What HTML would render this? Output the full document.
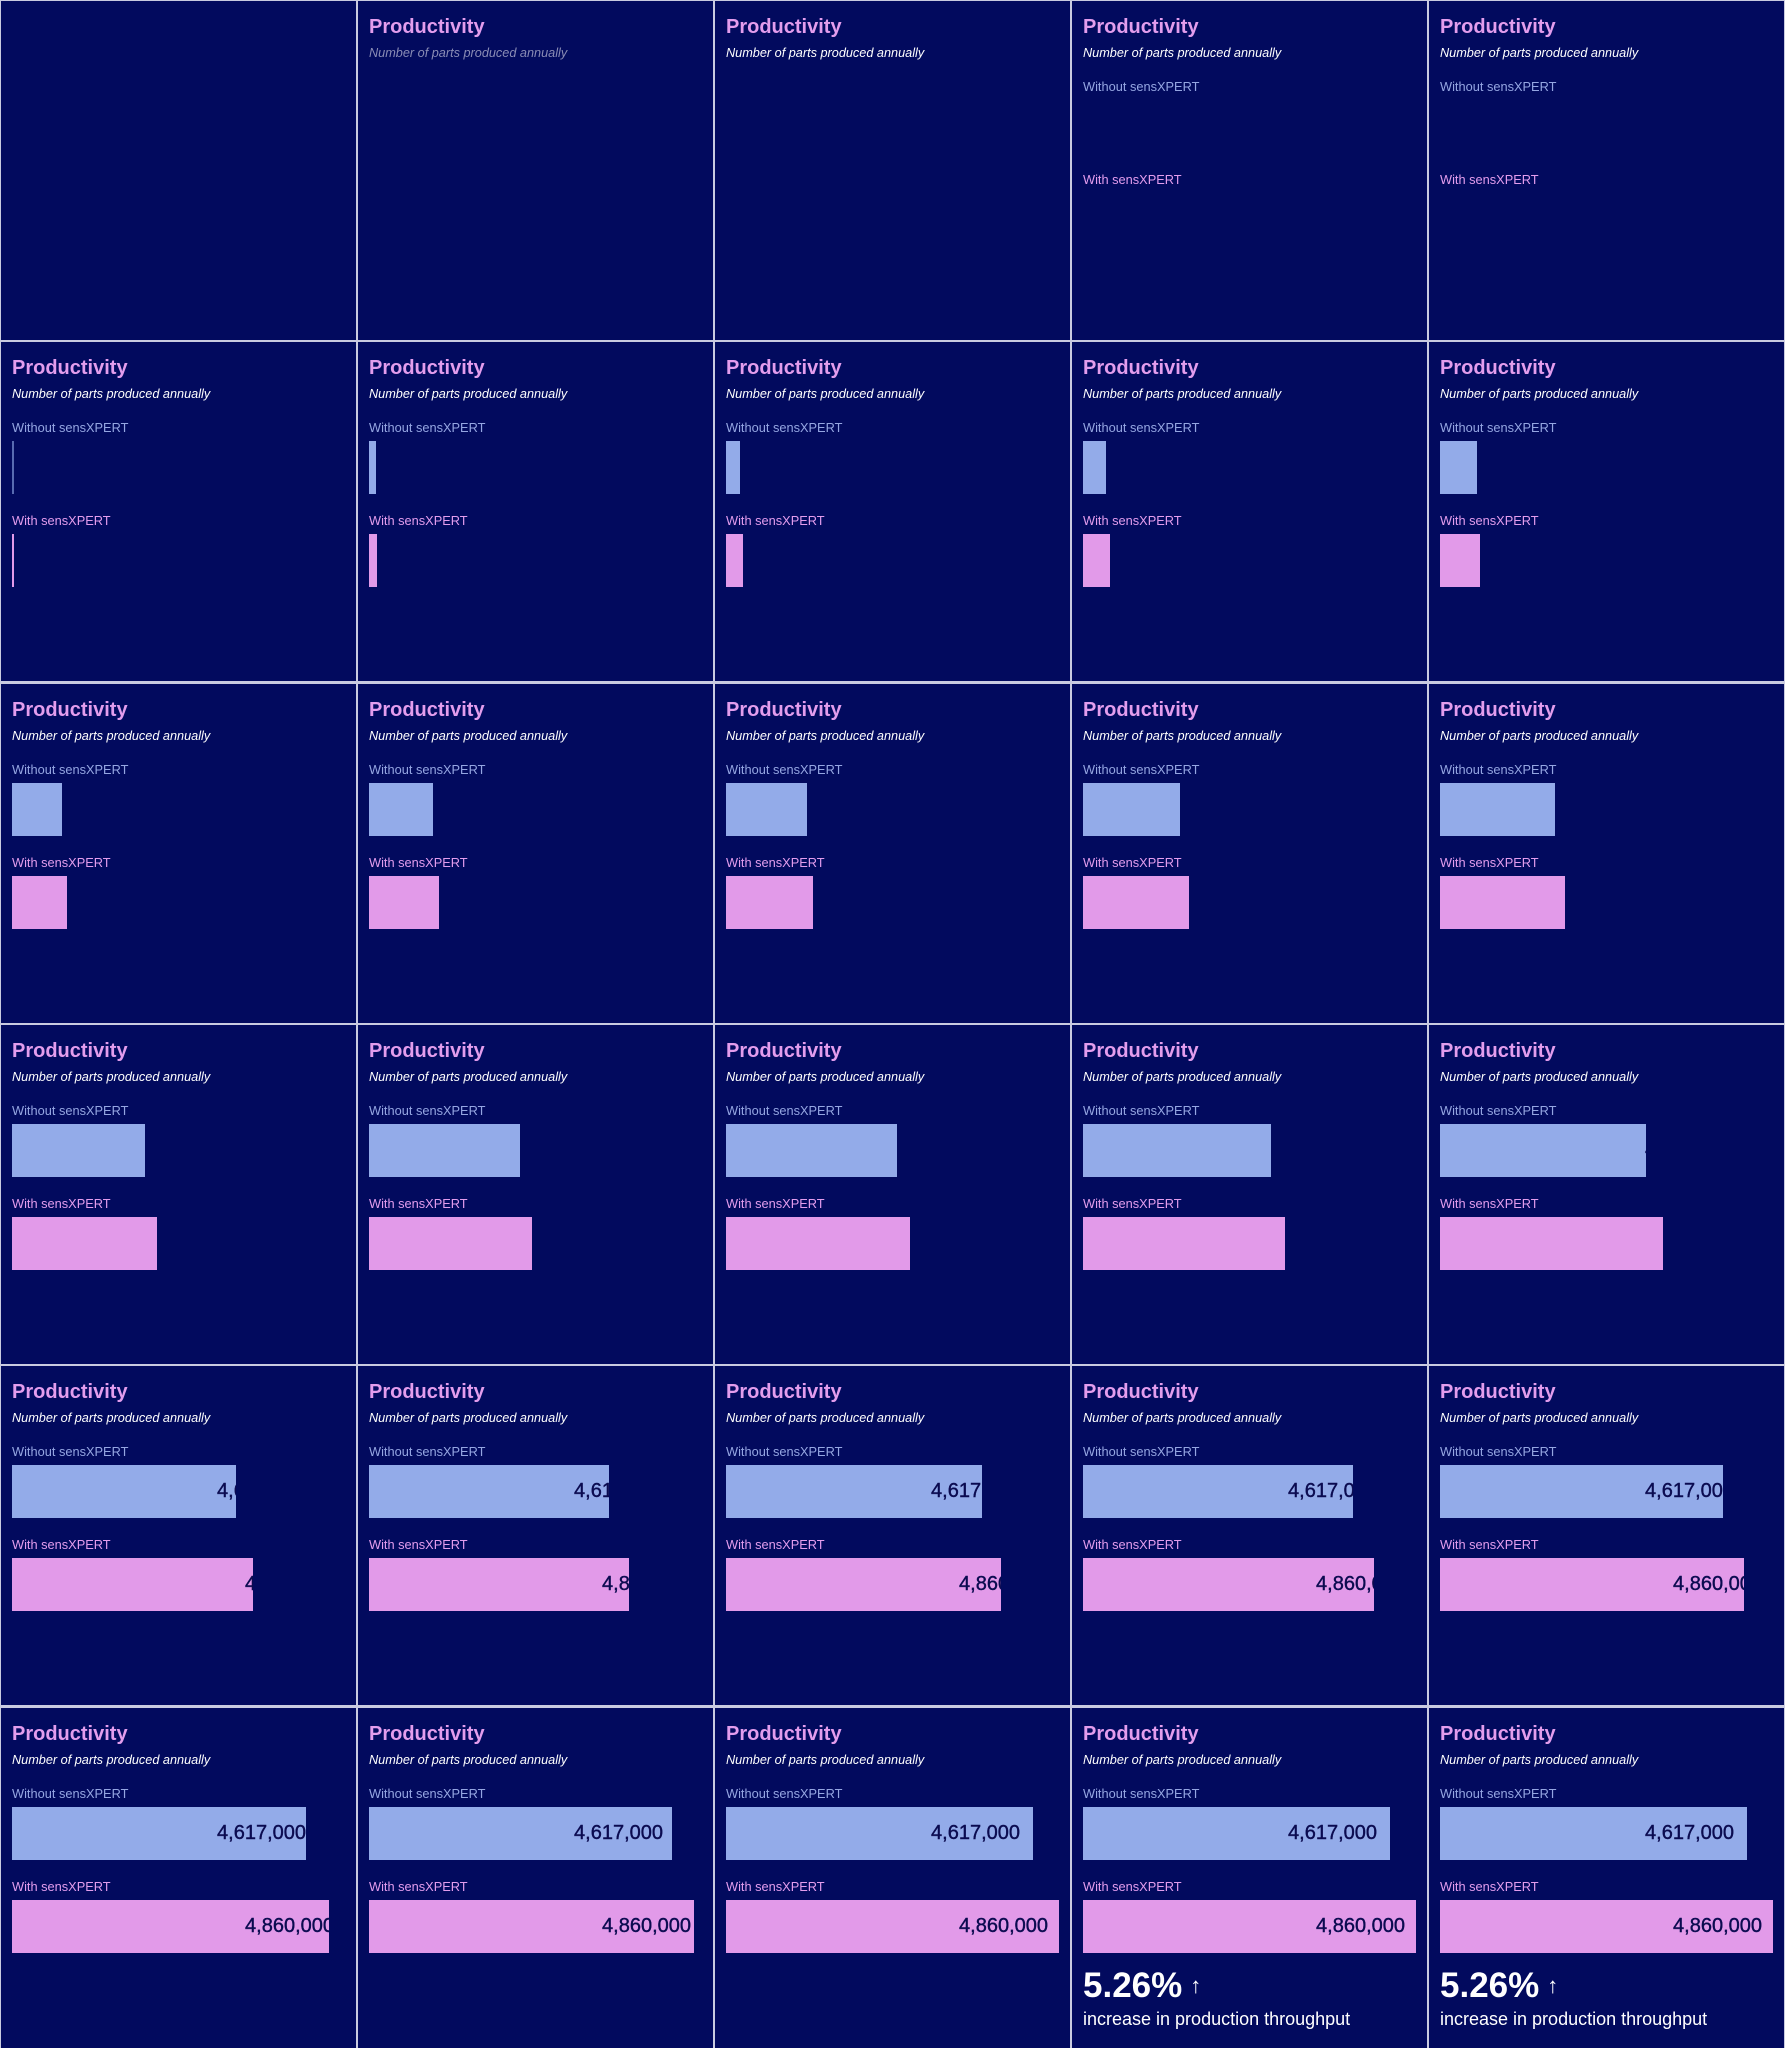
<!DOCTYPE html>
<html><head><meta charset="utf-8"><style>
*{margin:0;padding:0;box-sizing:border-box}
html,body{width:1785px;height:2048px;overflow:hidden}
body{background:#c9cbe0;position:relative;font-family:"Liberation Sans",sans-serif}
.c{position:absolute;width:355px;height:339px;background:#020a5e;overflow:hidden}
.t{position:absolute;left:11px;top:14px;font-size:20px;font-weight:bold;color:#e39ded;line-height:24px;white-space:nowrap}
.s{position:absolute;left:11px;top:44px;font-size:12.7px;font-style:italic;color:#fff;line-height:16px;white-space:nowrap}
.s.g{color:#8a8cb5}
.l1{position:absolute;left:11px;top:78px;font-size:12.8px;color:#95a6e2;line-height:16px;white-space:nowrap}
.l2{position:absolute;left:11px;top:171px;font-size:12.8px;color:#e39ded;line-height:16px;white-space:nowrap}
.b1,.b2{position:absolute;left:11px;height:53px;overflow:hidden}
.b1{top:99px;background:#93abe9}
.b2{top:192px;background:#e29ae9}
.b1 span,.b2 span{position:absolute;left:0;top:0;line-height:53px;font-size:20px;color:#0b0b50;text-align:right;white-space:nowrap;-webkit-text-stroke:0.4px #0b0b50}
.b1 span{width:294px}
.b2 span{width:322px}
.big{position:absolute;left:11px;top:258px;font-size:35px;font-weight:bold;color:#fff;line-height:40px;white-space:nowrap}
.big small{font-size:22px;font-weight:normal;margin-left:8px;vertical-align:4px}
.inc{position:absolute;left:11px;top:300px;font-size:18px;color:#fff;line-height:22px;white-space:nowrap}
</style></head><body>
<!-- row 0 -->
<div class="c" style="left:1px;top:1px"></div>
<div class="c" style="left:358px;top:1px"><div class="t">Productivity</div><div class="s g">Number of parts produced annually</div></div>
<div class="c" style="left:715px;top:1px"><div class="t">Productivity</div><div class="s">Number of parts produced annually</div></div>
<div class="c" style="left:1072px;top:1px"><div class="t">Productivity</div><div class="s">Number of parts produced annually</div><div class="l1">Without sensXPERT</div><div class="l2">With sensXPERT</div></div>
<div class="c" style="left:1429px;top:1px;width:355px"><div class="t">Productivity</div><div class="s">Number of parts produced annually</div><div class="l1">Without sensXPERT</div><div class="l2">With sensXPERT</div></div>
<!-- row 1 -->
<div class="c" style="left:1px;top:342px"><div class="t">Productivity</div><div class="s">Number of parts produced annually</div><div class="l1">Without sensXPERT</div><div class="b1" style="width:2px;opacity:.6"></div><div class="l2">With sensXPERT</div><div class="b2" style="width:2px"></div></div>
<div class="c" style="left:358px;top:342px"><div class="t">Productivity</div><div class="s">Number of parts produced annually</div><div class="l1">Without sensXPERT</div><div class="b1" style="width:7px"></div><div class="l2">With sensXPERT</div><div class="b2" style="width:8px"></div></div>
<div class="c" style="left:715px;top:342px"><div class="t">Productivity</div><div class="s">Number of parts produced annually</div><div class="l1">Without sensXPERT</div><div class="b1" style="width:14px"></div><div class="l2">With sensXPERT</div><div class="b2" style="width:17px"></div></div>
<div class="c" style="left:1072px;top:342px"><div class="t">Productivity</div><div class="s">Number of parts produced annually</div><div class="l1">Without sensXPERT</div><div class="b1" style="width:23px"></div><div class="l2">With sensXPERT</div><div class="b2" style="width:27px"></div></div>
<div class="c" style="left:1429px;top:342px"><div class="t">Productivity</div><div class="s">Number of parts produced annually</div><div class="l1">Without sensXPERT</div><div class="b1" style="width:37px"></div><div class="l2">With sensXPERT</div><div class="b2" style="width:40px"></div></div>
<!-- row 2 -->
<div class="c" style="left:1px;top:684px"><div class="t">Productivity</div><div class="s">Number of parts produced annually</div><div class="l1">Without sensXPERT</div><div class="b1" style="width:50px"></div><div class="l2">With sensXPERT</div><div class="b2" style="width:55px"></div></div>
<div class="c" style="left:358px;top:684px"><div class="t">Productivity</div><div class="s">Number of parts produced annually</div><div class="l1">Without sensXPERT</div><div class="b1" style="width:64px"></div><div class="l2">With sensXPERT</div><div class="b2" style="width:70px"></div></div>
<div class="c" style="left:715px;top:684px"><div class="t">Productivity</div><div class="s">Number of parts produced annually</div><div class="l1">Without sensXPERT</div><div class="b1" style="width:81px"></div><div class="l2">With sensXPERT</div><div class="b2" style="width:87px"></div></div>
<div class="c" style="left:1072px;top:684px"><div class="t">Productivity</div><div class="s">Number of parts produced annually</div><div class="l1">Without sensXPERT</div><div class="b1" style="width:97px"></div><div class="l2">With sensXPERT</div><div class="b2" style="width:106px"></div></div>
<div class="c" style="left:1429px;top:684px"><div class="t">Productivity</div><div class="s">Number of parts produced annually</div><div class="l1">Without sensXPERT</div><div class="b1" style="width:115px"></div><div class="l2">With sensXPERT</div><div class="b2" style="width:125px"></div></div>
<!-- row 3 -->
<div class="c" style="left:1px;top:1025px"><div class="t">Productivity</div><div class="s">Number of parts produced annually</div><div class="l1">Without sensXPERT</div><div class="b1" style="width:133px"><span>4,617,000</span></div><div class="l2">With sensXPERT</div><div class="b2" style="width:145px"><span>4,860,000</span></div></div>
<div class="c" style="left:358px;top:1025px"><div class="t">Productivity</div><div class="s">Number of parts produced annually</div><div class="l1">Without sensXPERT</div><div class="b1" style="width:151px"><span>4,617,000</span></div><div class="l2">With sensXPERT</div><div class="b2" style="width:163px"><span>4,860,000</span></div></div>
<div class="c" style="left:715px;top:1025px"><div class="t">Productivity</div><div class="s">Number of parts produced annually</div><div class="l1">Without sensXPERT</div><div class="b1" style="width:171px"><span>4,617,000</span></div><div class="l2">With sensXPERT</div><div class="b2" style="width:184px"><span>4,860,000</span></div></div>
<div class="c" style="left:1072px;top:1025px"><div class="t">Productivity</div><div class="s">Number of parts produced annually</div><div class="l1">Without sensXPERT</div><div class="b1" style="width:188px"><span>4,617,000</span></div><div class="l2">With sensXPERT</div><div class="b2" style="width:202px"><span>4,860,000</span></div></div>
<div class="c" style="left:1429px;top:1025px"><div class="t">Productivity</div><div class="s">Number of parts produced annually</div><div class="l1">Without sensXPERT</div><div class="b1" style="width:206px"><span>4,617,000</span></div><div class="l2">With sensXPERT</div><div class="b2" style="width:223px"><span>4,860,000</span></div></div>
<!-- row 4 -->
<div class="c" style="left:1px;top:1366px"><div class="t">Productivity</div><div class="s">Number of parts produced annually</div><div class="l1">Without sensXPERT</div><div class="b1" style="width:224px"><span>4,617,000</span></div><div class="l2">With sensXPERT</div><div class="b2" style="width:241px"><span>4,860,000</span></div></div>
<div class="c" style="left:358px;top:1366px"><div class="t">Productivity</div><div class="s">Number of parts produced annually</div><div class="l1">Without sensXPERT</div><div class="b1" style="width:240px"><span>4,617,000</span></div><div class="l2">With sensXPERT</div><div class="b2" style="width:260px"><span>4,860,000</span></div></div>
<div class="c" style="left:715px;top:1366px"><div class="t">Productivity</div><div class="s">Number of parts produced annually</div><div class="l1">Without sensXPERT</div><div class="b1" style="width:256px"><span>4,617,000</span></div><div class="l2">With sensXPERT</div><div class="b2" style="width:275px"><span>4,860,000</span></div></div>
<div class="c" style="left:1072px;top:1366px"><div class="t">Productivity</div><div class="s">Number of parts produced annually</div><div class="l1">Without sensXPERT</div><div class="b1" style="width:270px"><span>4,617,000</span></div><div class="l2">With sensXPERT</div><div class="b2" style="width:291px"><span>4,860,000</span></div></div>
<div class="c" style="left:1429px;top:1366px"><div class="t">Productivity</div><div class="s">Number of parts produced annually</div><div class="l1">Without sensXPERT</div><div class="b1" style="width:283px"><span>4,617,000</span></div><div class="l2">With sensXPERT</div><div class="b2" style="width:304px"><span>4,860,000</span></div></div>
<!-- row 5 -->
<div class="c" style="left:1px;top:1708px;height:340px"><div class="t">Productivity</div><div class="s">Number of parts produced annually</div><div class="l1">Without sensXPERT</div><div class="b1" style="width:294px"><span>4,617,000</span></div><div class="l2">With sensXPERT</div><div class="b2" style="width:317px"><span>4,860,000</span></div></div>
<div class="c" style="left:358px;top:1708px;height:340px"><div class="t">Productivity</div><div class="s">Number of parts produced annually</div><div class="l1">Without sensXPERT</div><div class="b1" style="width:303px"><span>4,617,000</span></div><div class="l2">With sensXPERT</div><div class="b2" style="width:325px"><span>4,860,000</span></div></div>
<div class="c" style="left:715px;top:1708px;height:340px"><div class="t">Productivity</div><div class="s">Number of parts produced annually</div><div class="l1">Without sensXPERT</div><div class="b1" style="width:307px"><span>4,617,000</span></div><div class="l2">With sensXPERT</div><div class="b2" style="width:333px"><span>4,860,000</span></div></div>
<div class="c" style="left:1072px;top:1708px;height:340px"><div class="t">Productivity</div><div class="s">Number of parts produced annually</div><div class="l1">Without sensXPERT</div><div class="b1" style="width:307px"><span>4,617,000</span></div><div class="l2">With sensXPERT</div><div class="b2" style="width:333px"><span>4,860,000</span></div><div class="big">5.26%<small>↑</small></div><div class="inc">increase in production throughput</div></div>
<div class="c" style="left:1429px;top:1708px;height:340px"><div class="t">Productivity</div><div class="s">Number of parts produced annually</div><div class="l1">Without sensXPERT</div><div class="b1" style="width:307px"><span>4,617,000</span></div><div class="l2">With sensXPERT</div><div class="b2" style="width:333px"><span>4,860,000</span></div><div class="big">5.26%<small>↑</small></div><div class="inc">increase in production throughput</div></div>
</body></html>
